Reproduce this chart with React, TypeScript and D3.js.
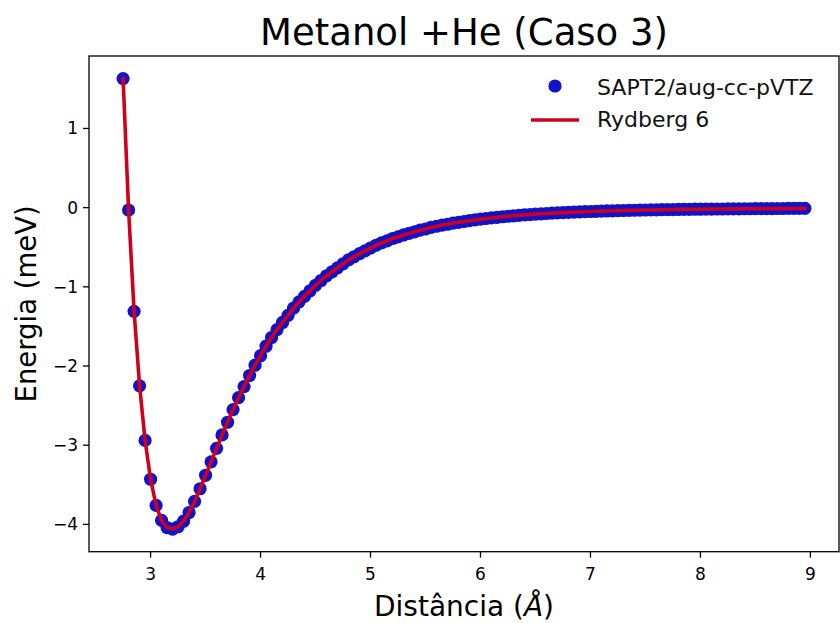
import React from "react";
import * as d3 from "d3";

const distances: number[] = [
  2.75, 2.8, 2.85, 2.9, 2.95, 3.0, 3.05, 3.1, 3.15, 3.2, 3.25, 3.3, 3.35, 3.4, 3.45, 3.5,
  3.55, 3.6, 3.65, 3.7, 3.75, 3.8, 3.85, 3.9, 3.95, 4.0, 4.05, 4.1, 4.15, 4.2, 4.25, 4.3,
  4.35, 4.4, 4.45, 4.5, 4.55, 4.6, 4.65, 4.7, 4.75, 4.8, 4.85, 4.9, 4.95, 5.0, 5.05, 5.1,
  5.15, 5.2, 5.25, 5.3, 5.35, 5.4, 5.45, 5.5, 5.55, 5.6, 5.65, 5.7, 5.75, 5.8, 5.85, 5.9,
  5.95, 6.0, 6.05, 6.1, 6.15, 6.2, 6.25, 6.3, 6.35, 6.4, 6.45, 6.5, 6.55, 6.6, 6.65, 6.7,
  6.75, 6.8, 6.85, 6.9, 6.95, 7.0, 7.05, 7.1, 7.15, 7.2, 7.25, 7.3, 7.35, 7.4, 7.45, 7.5,
  7.55, 7.6, 7.65, 7.7, 7.75, 7.8, 7.85, 7.9, 7.95, 8.0, 8.05, 8.1, 8.15, 8.2, 8.25, 8.3,
  8.35, 8.4, 8.45, 8.5, 8.55, 8.6, 8.65, 8.7, 8.75, 8.8, 8.85, 8.9, 8.95,
];

const sapt2Energies: number[] = [
  1.63, -0.03, -1.31, -2.25, -2.94, -3.43, -3.76, -3.95, -4.04, -4.06, -4.03, -3.96, -3.85, -3.71, -3.55, -3.38,
  -3.21, -3.04, -2.87, -2.71, -2.55, -2.4, -2.26, -2.12, -1.99, -1.87, -1.75, -1.64, -1.54, -1.45, -1.36, -1.27,
  -1.19, -1.12, -1.05, -0.98, -0.92, -0.86, -0.81, -0.76, -0.71, -0.66, -0.62, -0.58, -0.545, -0.51, -0.475, -0.445,
  -0.42, -0.39, -0.37, -0.345, -0.325, -0.305, -0.285, -0.27, -0.25, -0.235, -0.22, -0.21, -0.195, -0.185, -0.175, -0.165,
  -0.155, -0.145, -0.137, -0.13, -0.122, -0.115, -0.109, -0.103, -0.097, -0.092, -0.087, -0.082, -0.078, -0.074, -0.07, -0.066,
  -0.063, -0.06, -0.057, -0.054, -0.051, -0.049, -0.046, -0.044, -0.042, -0.04, -0.038, -0.036, -0.035, -0.033, -0.032, -0.03,
  -0.029, -0.028, -0.026, -0.025, -0.024, -0.023, -0.022, -0.021, -0.02, -0.02, -0.019, -0.018, -0.017, -0.017, -0.016, -0.015,
  -0.015, -0.014, -0.014, -0.013, -0.013, -0.012, -0.012, -0.011, -0.011, -0.01, -0.01, -0.01, -0.009,
];

const rydbergEnergies: number[] = sapt2Energies.slice();

const xTicks: number[] = [3, 4, 5, 6, 7, 8, 9];
const yTicks: number[] = [-4, -3, -2, -1, 0, 1];

const title = "Metanol +He (Caso 3)";
const seriesNames: string[] = ["SAPT2/aug-cc-pVTZ", "Rydberg 6"];

const W = 840;
const H = 623;
const M = { left: 89, right: 839, top: 56, bottom: 551.7 };
const FONT = "'DejaVu Sans', sans-serif";
const BLUE = "#1212c8";
const RED = "#d0001c";

export default function App() {
  const x = d3.scaleLinear().domain([2.44, 9.26]).range([M.left, M.right]);
  const y = d3.scaleLinear().domain([-4.345, 1.915]).range([M.bottom, M.top]);

  const pts = distances.map((d, i) => ({ d, e: sapt2Energies[i], f: rydbergEnergies[i] }));
  const line = d3
    .line<{ d: number; f: number }>()
    .x((p) => x(p.d))
    .y((p) => y(p.f))
    .curve(d3.curveLinear);

  const fmt = (v: number) => (v < 0 ? "\u2212" + Math.abs(v) : String(v));

  return (
    <svg width={W} height={H} style={{ position: "absolute", left: 0, top: 0, background: "#fff" }}>
      <rect x={0} y={0} width={W} height={H} fill="#fff" />
      <defs>
        <clipPath id="plotclip">
          <rect x={M.left} y={M.top} width={M.right - M.left} height={M.bottom - M.top} />
        </clipPath>
      </defs>
      <text x={(M.left + M.right) / 2} y={45} textAnchor="middle" fontFamily={FONT} fontSize={37} fill="#000">
        {title}
      </text>

      <g clipPath="url(#plotclip)">
        {pts.map((p, i) => (
          <circle key={i} cx={x(p.d)} cy={y(p.e)} r={6.6} fill={BLUE} />
        ))}
        <path d={line(pts) || ""} fill="none" stroke={RED} strokeWidth={3.6} strokeLinejoin="round" strokeLinecap="square" />
      </g>

      <rect x={M.left} y={M.top} width={M.right - M.left} height={M.bottom - M.top} fill="none" stroke="#000" strokeWidth={1.3} />

      {xTicks.map((t) => (
        <g key={"x" + t}>
          <line x1={x(t)} x2={x(t)} y1={M.bottom} y2={M.bottom + 6} stroke="#000" strokeWidth={1.3} />
          <text x={x(t)} y={M.bottom + 28} textAnchor="middle" fontFamily={FONT} fontSize={17} fill="#000">
            {fmt(t)}
          </text>
        </g>
      ))}
      {yTicks.map((t) => (
        <g key={"y" + t}>
          <line x1={M.left - 6} x2={M.left} y1={y(t)} y2={y(t)} stroke="#000" strokeWidth={1.3} />
          <text x={M.left - 11} y={y(t) + 6} textAnchor="end" fontFamily={FONT} fontSize={17} fill="#000">
            {fmt(t)}
          </text>
        </g>
      ))}

      <text x={(M.left + M.right) / 2} y={616} textAnchor="middle" fontFamily={FONT} fontSize={28} fill="#000">
        Distância (<tspan fontStyle="italic">Å</tspan>)
      </text>
      <text
        transform={`translate(36, ${(M.top + M.bottom) / 2}) rotate(-90)`}
        textAnchor="middle"
        fontFamily={FONT}
        fontSize={27.5}
        fill="#000"
      >
        Energia (meV)
      </text>

      <g>
        <circle cx={555} cy={86} r={6.6} fill={BLUE} />
        <text x={597} y={95} fontFamily={FONT} fontSize={22} fill="#111">
          {seriesNames[0]}
        </text>
        <line x1={531} x2={579} y1={120} y2={120} stroke={RED} strokeWidth={3.6} />
        <text x={597} y={127} fontFamily={FONT} fontSize={22} fill="#111">
          {seriesNames[1]}
        </text>
      </g>
    </svg>
  );
}
